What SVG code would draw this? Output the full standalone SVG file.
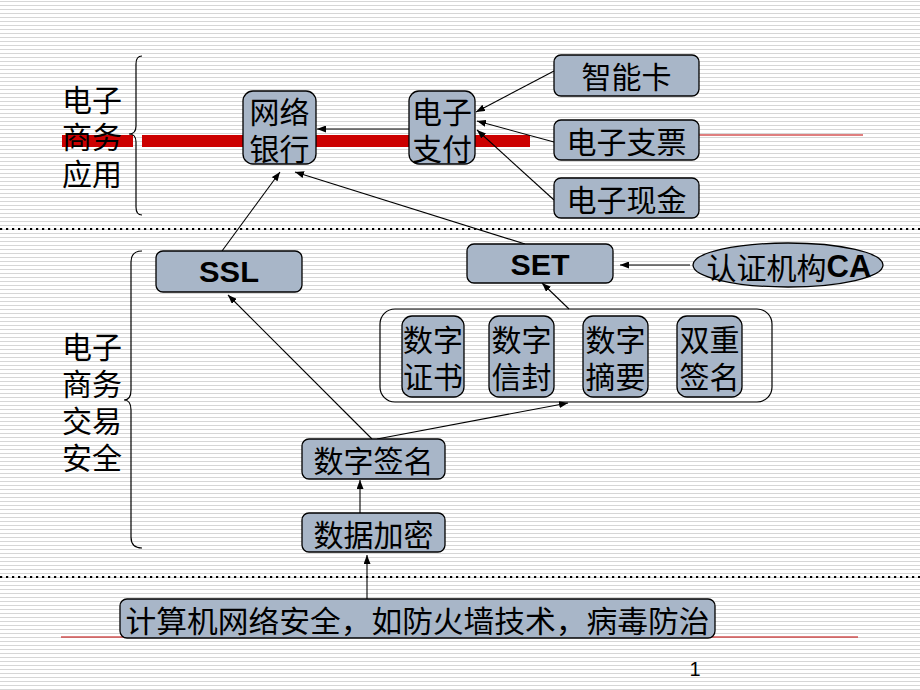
<svg xmlns="http://www.w3.org/2000/svg" width="920" height="690" viewBox="0 0 920 690">
<defs>
<pattern id="stripes" x="0" y="0" width="8" height="4" patternUnits="userSpaceOnUse">
<rect x="0" y="1" width="8" height="1" fill="#D6D6D6"/>
</pattern>
<marker id="arr" markerUnits="userSpaceOnUse" markerWidth="9" markerHeight="7" refX="9" refY="3.5" orient="auto">
<path d="M0,0 L9,3.5 L0,7 z" fill="#000"/>
</marker>
<style>
.box{fill:#A8B6C8;stroke:#000;stroke-width:1.3}
.t{font-family:"Noto Sans CJK SC","Liberation Sans",sans-serif;font-size:30px;fill:#000;text-anchor:middle;dominant-baseline:central}
.lbl{font-family:"Noto Sans CJK SC","Liberation Sans",sans-serif;font-size:30px;fill:#000;dominant-baseline:central}
.b{font-family:"Liberation Sans",Arial,sans-serif;font-weight:bold}
.c{fill:none;stroke:#000;stroke-width:1.1;marker-end:url(#arr)}
.sep{stroke:#000;stroke-width:2.2;stroke-dasharray:2.2 3.8}
.brace{fill:none;stroke:#000;stroke-width:1.2}
</style>
</defs>
<rect width="920" height="690" fill="#FFFFFF"/>
<rect width="920" height="690" fill="url(#stripes)"/>

<g id="background-lines">
<line class="sep" x1="0" y1="229" x2="920" y2="229"/>
<line class="sep" x1="0" y1="577" x2="920" y2="577"/>
<rect x="62" y="135" width="71" height="12" fill="#CC0000"/>
<rect x="142" y="135" width="388" height="12" fill="#CC0000"/>
<line x1="699" y1="135" x2="863" y2="135" stroke="#C00000" stroke-width="1.2"/>
<line x1="61" y1="637" x2="858" y2="637" stroke="#C00000" stroke-width="1.2"/>
<path class="brace" d="M142,56 Q136,56 136,64 L136,126 Q136,134 129,134 Q136,134 136,142 L136,207 Q136,215 142,215"/>
<path class="brace" d="M142,251 Q131,251 131,262 L131,390 Q131,400 124,400 Q131,400 131,410 L131,537 Q131,548 142,548"/>
<rect x="380" y="309" width="392" height="93" rx="15" fill="none" stroke="#000" stroke-width="1.2"/>
</g>

<g id="label-app">
<text class="lbl"><tspan x="62" y="98">电子</tspan><tspan x="62" y="135">商务</tspan><tspan x="62" y="172">应用</tspan></text>
</g>
<g id="label-trade">
<text class="lbl"><tspan x="62" y="345">电子</tspan><tspan x="62" y="382">商务</tspan><tspan x="62" y="419">交易</tspan><tspan x="62" y="456">安全</tspan></text>
</g>

<g id="connectors">
<line class="c" x1="409" y1="129" x2="317" y2="129"/>
<line class="c" x1="554" y1="71" x2="476" y2="112"/>
<line class="c" x1="554" y1="142" x2="477" y2="121"/>
<line class="c" x1="554" y1="200" x2="477" y2="130"/>
<line class="c" x1="222" y1="251" x2="280" y2="172"/>
<line class="c" x1="525" y1="244" x2="295" y2="172"/>
<line class="c" x1="690" y1="265" x2="620" y2="265"/>
<line class="c" x1="569" y1="309" x2="542" y2="283"/>
<line class="c" x1="372" y1="439" x2="228" y2="295"/>
<line class="c" x1="377" y1="439" x2="568" y2="403"/>
<line class="c" x1="360" y1="513" x2="360" y2="480"/>
<line class="c" x1="367" y1="599" x2="367" y2="555"/>
</g>

<g id="node-wangluoyinhang">
<rect class="box" x="243" y="91" width="73" height="73" rx="10"/>
<text class="t"><tspan x="279.5" y="110">网络</tspan><tspan x="279.5" y="147">银行</tspan></text>
</g>
<g id="node-dianzizhifu">
<rect class="box" x="409" y="91" width="66" height="73" rx="10"/>
<text class="t"><tspan x="442" y="110">电子</tspan><tspan x="442" y="147">支付</tspan></text>
</g>
<g id="node-zhinengka">
<rect class="box" x="554" y="55" width="145" height="41" rx="7"/>
<text class="t" x="626.5" y="75">智能卡</text>
</g>
<g id="node-dianzizhipiao">
<rect class="box" x="554" y="120" width="145" height="40" rx="7"/>
<text class="t" x="626.5" y="140">电子支票</text>
</g>
<g id="node-dianzixianjin">
<rect class="box" x="554" y="178" width="145" height="40" rx="7"/>
<text class="t" x="626.5" y="198">电子现金</text>
</g>
<g id="node-ssl">
<rect class="box" x="156" y="251" width="146" height="41" rx="7"/>
<text class="t b" x="229" y="271" font-size="35" textLength="60" lengthAdjust="spacingAndGlyphs">SSL</text>
</g>
<g id="node-set">
<rect class="box" x="467" y="244" width="146" height="39" rx="7"/>
<text class="t b" x="540" y="264" font-size="35" textLength="59" lengthAdjust="spacingAndGlyphs">SET</text>
</g>
<g id="node-ca">
<ellipse class="box" cx="788" cy="265" rx="95" ry="22"/>
<text class="t" x="789" y="266">认证机构<tspan class="b" font-size="31">CA</tspan></text>
</g>
<g id="node-shuzizhengshu">
<rect class="box" x="402" y="316" width="62" height="81" rx="10"/>
<text class="t"><tspan x="433" y="338">数字</tspan><tspan x="433" y="375">证书</tspan></text>
</g>
<g id="node-shuzixinfeng">
<rect class="box" x="489" y="316" width="65" height="81" rx="10"/>
<text class="t"><tspan x="521.5" y="338">数字</tspan><tspan x="521.5" y="375">信封</tspan></text>
</g>
<g id="node-shuzizhaiyao">
<rect class="box" x="583" y="316" width="65" height="81" rx="10"/>
<text class="t"><tspan x="615.5" y="338">数字</tspan><tspan x="615.5" y="375">摘要</tspan></text>
</g>
<g id="node-shuangchongqianming">
<rect class="box" x="677" y="316" width="65" height="81" rx="10"/>
<text class="t"><tspan x="709.5" y="338">双重</tspan><tspan x="709.5" y="375">签名</tspan></text>
</g>
<g id="node-shuziqianming">
<rect class="box" x="302" y="439" width="143" height="40" rx="7"/>
<text class="t" x="373.5" y="459">数字签名</text>
</g>
<g id="node-shujujiami">
<rect class="box" x="302" y="513" width="143" height="39" rx="7"/>
<text class="t" x="373.5" y="532.5">数据加密</text>
</g>
<g id="node-network-security">
<rect class="box" x="120" y="599" width="595" height="39" rx="7"/>
<text class="t" x="417.5" y="618.5" textLength="584" lengthAdjust="spacingAndGlyphs">计算机网络安全，如防火墙技术，病毒防治</text>
</g>
<g id="page-number">
<text x="695" y="676" font-family="Liberation Sans, Arial, sans-serif" font-size="20" fill="#000" text-anchor="middle">1</text>
</g>
</svg>
